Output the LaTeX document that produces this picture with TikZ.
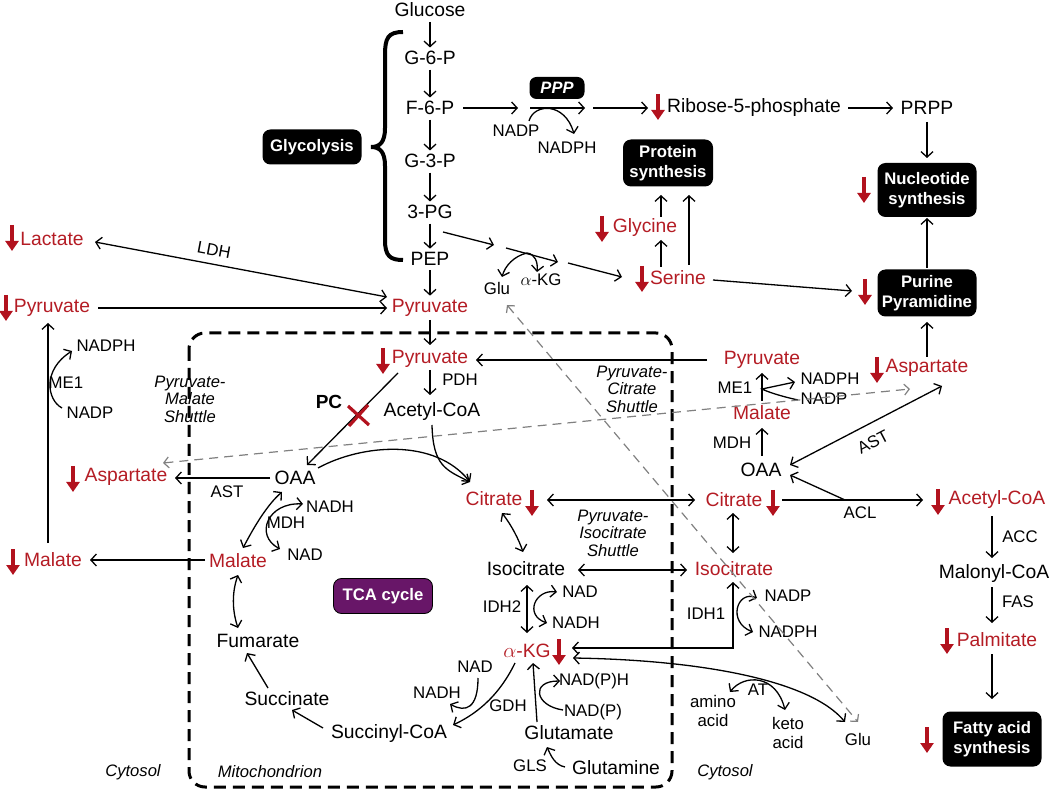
\documentclass[tikz,border=0pt]{standalone}
\usepackage{fontspec}
\setmainfont{Liberation Sans}
\usetikzlibrary{arrows.meta}
\definecolor{RD}{RGB}{178,18,30}
\definecolor{TXR}{RGB}{180,28,36}
\definecolor{PUR}{RGB}{104,22,104}
\newcommand\myRedDown[1]{\draw[rarr] (#1) ++(0,-13) -- ++(0,26);}
\begin{document}
\begin{tikzpicture}[x=1pt,y=-1pt,
  lbl/.style={font=\fontsize{19.3pt}{21pt}\selectfont, inner sep=1.5pt},
  rt/.style={lbl, text=TXR},
  sm/.style={font=\fontsize{16.8pt}{19.5pt}\selectfont, inner sep=1pt, align=center},
  itl/.style={font=\fontsize{16.6pt}{17.5pt}\selectfont\itshape, align=center, inner sep=1pt},
  bx/.style={fill=black, rounded corners=8pt, text=white, font=\fontsize{16.7pt}{19.5pt}\selectfont\bfseries, align=center, inner sep=0pt, minimum width=99pt},
  ar/.style={line width=1.3pt, -{Straight Barb[length=5.5pt,width=12pt]}},
  dar/.style={line width=1.3pt, {Straight Barb[length=5.5pt,width=12pt]}-{Straight Barb[length=5.5pt,width=12pt]}},
  va/.style={ar, shorten <=3pt, shorten >=2pt},
  gd/.style={line width=1.2pt, black!50, dash pattern=on 9pt off 6pt, {Straight Barb[length=5pt,width=11pt]}-{Straight Barb[length=5pt,width=11pt]}},
  rarr/.style={line width=4.5pt, RD, -{Triangle[length=10pt,width=13pt]}},
]
\useasboundingbox (0,0) rectangle (1050,791);

% ---------- mitochondrion box
\draw[line width=3pt, dash pattern=on 12pt off 7pt, rounded corners=16pt] (189,333) rectangle (672,787);

% ---------- glycolysis column
\node[lbl] (glc) at (430,10) {Glucose};
\node[lbl] (g6p) at (430,58) {G-6-P};
\node[lbl] (f6p) at (430,108) {F-6-P};
\node[lbl] (g3p) at (430,161) {G-3-P};
\node[lbl] (pg3) at (430,212) {3-PG};
\node[lbl] (pep) at (430,259) {PEP};
\node[rt] (pyr) at (430,308) {Pyruvate};
\draw[va] (glc) -- (g6p);
\draw[va] (g6p) -- (f6p);
\draw[va] (f6p) -- (g3p);
\draw[va] (g3p) -- (pg3);
\draw[va] (pg3) -- (pep);
\draw[va] (pep) -- (pyr);
\draw[line width=4pt] (403,32) .. controls (388,32) and (385,38) .. (385,55) -- (385,128)
  .. controls (385,142) and (380,147) .. (371,147) .. controls (380,147) and (385,152) .. (385,166)
  -- (385,240) .. controls (385,256) and (390,260) .. (403,260);
\node[bx, minimum height=35pt] (glyb) at (312,147) {Glycolysis};

% ---------- PPP
\node[bx, minimum width=55pt, minimum height=22pt, rounded corners=7pt, font=\fontsize{16.5pt}{19pt}\selectfont\bfseries\itshape] (ppp) at (557,88) {PPP};
\coordinate (pppa) at (530,108);
\coordinate (pppb) at (585,108);
\draw[ar] (463,108) -- (518,108);
\draw[ar] (pppa) -- (pppb);
\node[sm] (nadp1) at (516,131) {NADP};
\node[sm] (nadph1) at (567,148) {NADPH};
\draw[ar] (529,121) .. controls (534,103) and (565,102) .. (574,134);
\myRedDown{658,107}
\node[lbl] (rib) at (754,108) {Ribose-5-phosphate};
\draw[ar] (593,108) -- (648,108);
\node[lbl] (prpp) at (927,108) {PRPP};
\draw[ar] (848,108) -- (893,108);
\node[bx, minimum height=54pt] (nuc) at (927,190) {Nucleotide\\synthesis};
\myRedDown{864,190}
\node[bx, minimum height=47pt] (pur) at (927,293) {Purine\\Pyramidine};
\myRedDown{865,292}
\draw[ar] (927,122) -- (927,158);
\draw[ar] (927,268) -- (927,218);
\node[bx, minimum width=90pt, minimum height=47pt] (prot) at (668,163) {Protein\\synthesis};

% ---------- serine branch
\node[rt] (gly) at (645,228) {Glycine};
\myRedDown{602,229}
\node[rt] (ser) at (678,278) {Serine};
\myRedDown{642,279}
\draw[ar] (661,267) -- (661,240);
\draw[ar] (661,217) -- (661,195);
\draw[ar] (689,265) -- (689,195);
\draw[ar] (713,280) -- (852,291);
\draw[ar] (443,232) -- (494,245);
\draw[ar] (506,248) -- (558,262);
\draw[ar] (568,263) -- (622,277);
\node[sm] (glu1) at (497,288) {Glu};
\node[sm] (akg1) at (541,280) {$\alpha$-KG};
\draw[ar] (527,253) .. controls (514,256) and (505,266) .. (502,277);
\draw[ar] (527,253) .. controls (535,254) and (538,262) .. (537,272);

% ---------- left cytosol
\node[rt] (lac) at (52,239) {Lactate};
\myRedDown{12,238}
\node[rt] (pyrl) at (52,308) {Pyruvate};
\myRedDown{6,308}
\draw[dar] (95,242) -- (387,297);
\node[sm, rotate=-10.7] (ldh) at (214,250) {LDH};
\draw[ar] (98,308) -- (387,308);
\node[sm] (nadphl) at (106,346) {NADPH};
\node[sm] (me1l) at (66,383) {ME1};
\node[sm] (nadpl) at (90,413) {NADP};
\draw[ar] (62,408) .. controls (47,400) and (42,370) .. (72,351);
\node[rt] (aspl) at (126,477) {Aspartate};
\myRedDown{73,479}
\node[rt] (mall) at (53,560) {Malate};
\myRedDown{13,562}
\draw[ar] (48,543) -- (48,323);
\node[itl] (pms) at (190,399) {Pyruvate-\\Malate\\Shuttle};
\node[itl] (cyt1) at (133,772) {Cytosol};
\node[itl] (mito) at (270,772) {Mitochondrion};

% ---------- mitochondrion contents
\node[rt] (pyrm) at (430,359) {Pyruvate};
\myRedDown{383,361}
\draw[ar] (430,320) -- (430,345);
\node[lbl] (acm) at (432,412) {Acetyl-CoA};
\draw[ar] (430,370) -- (430,395);
\node[sm] (pdh) at (460,380) {PDH};
\node[lbl, font=\fontsize{19pt}{21pt}\selectfont\bfseries] (pc) at (329,402) {PC};
\node[lbl] (oaam) at (295,478) {OAA};
\draw[ar] (398,373) -- (307,465);
\draw[RD, line width=3.2pt] (348,406) -- (369,425) (349,426) -- (368,405);
\node[rt] (citm) at (494,499) {Citrate};
\myRedDown{532,503}
\draw[ar] (318,468) .. controls (362,444) and (435,438) .. (470,482);
\draw[ar] (432,425) .. controls (433,466) and (446,470) .. (470,482);
\draw[ar] (270,478) -- (175,478);
\node[sm] (astl) at (227,492) {AST};
\node[itl] (pcs) at (632,389) {Pyruvate-\\Citrate\\Shuttle};
\node[itl] (pis) at (613,533) {Pyruvate-\\Isocitrate\\Shuttle};
\node[sm] (nadh2) at (330,507) {NADH};
\node[sm] (mdh2) at (286,523) {MDH};
\node[sm] (nad2) at (305,555) {NAD};
\node[rt] (malm) at (238,561) {Malate};
\draw[ar] (205,560) -- (90,560);
\draw[dar] (243,548) .. controls (255,525) and (268,504) .. (282,492);
\draw[dar] (303,504) .. controls (268,502) and (254,535) .. (280,549);
\node[bx, fill=PUR, minimum height=35pt, draw=black, line width=0.8pt] (tca) at (383,596) {TCA cycle};
\node[lbl] (fum) at (258,641) {Fumarate};
\node[lbl] (suc) at (287,699) {Succinate};
\node[lbl] (sca) at (389,734) {Succinyl-CoA};
\draw[dar] (238,628) .. controls (232,610) and (232,592) .. (238,575);
\draw[ar] (268,688) -- (247,653);
\draw[ar] (323,728) -- (292,710);
\node[lbl] (isom) at (526,569) {Isocitrate};
\draw[dar] (502,513) .. controls (512,526) and (519,540) .. (523,552);
\node[sm] (idh2) at (502,607) {IDH2};
\node[sm] (nad3) at (580,592) {NAD};
\node[sm] (nadh3) at (576,623) {NADH};
\draw[dar] (527,585) -- (527,633);
\draw[dar] (557,592) .. controls (535,589) and (524,615) .. (547,623);
\node[rt] (akgm) at (527,651) {$\alpha$-KG};
\myRedDown{559,652}
\node[sm] (nad4) at (475,667) {NAD};
\node[sm] (nadh4) at (437,693) {NADH};
\draw[ar] (515,663) .. controls (497,700) and (472,716) .. (453,725);
\draw[ar] (478,678) .. controls (478,708) and (466,713) .. (450,704);
\node[sm] (gdh) at (508,706) {GDH};
\node[sm] (nadph4) at (594,681) {NAD(P)H};
\node[sm] (nadp4) at (593,712) {NAD(P)};
\node[lbl] (glut) at (569,733) {Glutamate};
\node[lbl] (glnm) at (616,768) {Glutamine};
\node[sm] (gls) at (530,766) {GLS};
\draw[ar] (537,722) -- (533,663);
\draw[ar] (563,710) .. controls (535,706) and (530,681) .. (560,681);
\draw[ar] (565,767) .. controls (555,765) and (551,756) .. (547,747);

% ---------- right cytosol
\node[rt] (pyrr) at (762,360) {Pyruvate};
\draw[ar] (707,360) -- (476,360);
\node[sm] (me1r) at (735,388) {ME1};
\node[sm] (nadphr) at (830,379) {NADPH};
\node[sm] (nadpr) at (824,399) {NADP};
\node[rt] (malr) at (762,413) {Malate};
\draw[ar] (762,401) -- (762,373);
\draw[ar] (798,400) .. controls (780,396) and (768,392) .. (762,389) -- (795,382);
\node[sm] (mdhr) at (732,443) {MDH};
\node[lbl] (oaar) at (761,470) {OAA};
\draw[ar] (762,456) -- (762,428);
\node[rt] (aspr) at (927,368) {Aspartate};
\myRedDown{877,370}
\draw[ar] (927,357) -- (927,322);
\draw[dar] (790,465) -- (942,386);
\node[sm, rotate=27.5] (astr) at (873,442) {AST};
\node[rt] (citr) at (734,500) {Citrate};
\myRedDown{773,503}
\draw[dar] (547,500) -- (695,500);
\node[rt] (acr) at (997,500) {Acetyl-CoA};
\myRedDown{938,502}
\draw[ar] (782,500) -- (923,500);
\draw[ar] (845,500) -- (790,475);
\node[sm] (acl) at (860,513) {ACL};
\node[lbl] (mal) at (994,574) {Malonyl-CoA};
\draw[ar] (992,516) -- (992,558);
\node[sm] (acc) at (1020,537) {ACC};
\node[rt] (palm) at (997,640) {Palmitate};
\myRedDown{947,641}
\draw[ar] (992,587) -- (992,623);
\node[sm] (fas) at (1018,602) {FAS};
\node[bx, minimum height=55pt] (fat) at (992,739) {Fatty acid\\synthesis};
\myRedDown{927,740}
\draw[ar] (992,654) -- (992,699);
\node[rt] (isor) at (734,569) {Isocitrate};
\draw[dar] (733,513) -- (733,553);
\draw[dar] (578,570) -- (687,570);
\node[sm] (idh1) at (706,614) {IDH1};
\node[sm] (nadp5) at (788,596) {NADP};
\node[sm] (nadph5) at (788,632) {NADPH};
\draw[dar] (733,582) -- (733,648) -- (572,648);
\draw[dar] (757,598) .. controls (737,590) and (727,622) .. (753,632);
\node[sm] (at) at (758,690) {AT};
\node[sm] (amino) at (713,711) {amino\\acid};
\node[sm] (keto) at (788,733) {keto\\acid};
\node[sm] (glur) at (858,739) {Glu};
\draw[dar] (573,658) .. controls (700,660) and (810,680) .. (845,722);
\draw[dar] (730,692) .. controls (744,674) and (776,674) .. (785,710);
\node[itl] (cyt2) at (725,772) {Cytosol};

% ---------- gray dashed
\draw[gd] (507,305) -- (858,722);
\draw[gd] (163,463) -- (910,389);
\end{tikzpicture}
\end{document}
